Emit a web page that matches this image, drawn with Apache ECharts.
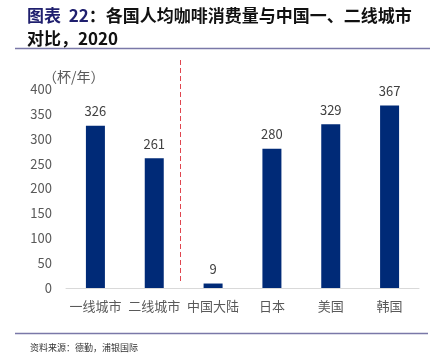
<!DOCTYPE html>
<html><head><meta charset="utf-8">
<script src="https://cdn.jsdelivr.net/npm/echarts@6/dist/echarts.min.js"></script>
<style>html,body{margin:0;padding:0;background:#fff}#c{width:435px;height:357px}</style>
</head><body><div id="c"></div>
<script>
const categories = ['一线城市', '二线城市', '中国大陆', '日本', '美国', '韩国'];
const values = [326, 261, 9, 280, 329, 367];
const yTicks = [0, 50, 100, 150, 200, 250, 300, 350, 400];
const dividerAt = 1.94; // between 二线城市 and 中国大陆

const chart = echarts.init(document.getElementById('c'), null, {renderer: 'canvas'});
const CJK = '"Noto Sans CJK SC", "Noto Sans", sans-serif';
chart.setOption({
  animation: false,
  textStyle: {fontFamily: CJK},
  grid: {left: 66, right: 16, top: 89, bottom: 69},
  title: [
    {text: '{a|图表  22}：各国人均咖啡消费量与中国一、二线城市\n对比，2020', left: 22, top: -1,
     textStyle: {fontSize: 17, fontWeight: 'bold', color: '#111', lineHeight: 23, fontFamily: CJK,
       rich: {a: {fontSize: 17, fontWeight: 'bold', color: '#1f1f6e', fontFamily: CJK}}}},
    {text: '资料来源：德勤，浦银国际', left: 25, top: 338,
     textStyle: {fontSize: 9, fontWeight: 'normal', color: '#333', fontFamily: CJK}},
    {text: '（杯/年）', left: 38, top: 65,
     textStyle: {fontSize: 14, fontWeight: 'normal', color: '#595959', fontFamily: CJK}}
  ],
  xAxis: [{
    type: 'category', data: categories,
    axisLine: {lineStyle: {color: '#d9d9d9'}},
    axisTick: {show: false},
    axisLabel: {color: '#595959', fontSize: 13, margin: 12, interval: 0, fontFamily: CJK}
  }, {
    type: 'value', min: 0, max: 6, show: false
  }],
  yAxis: {
    type: 'value', min: yTicks[0], max: yTicks[yTicks.length - 1], interval: 50,
    axisLine: {show: false}, axisTick: {show: false}, splitLine: {show: false},
    axisLabel: {color: '#595959', fontSize: 13, margin: 14, fontFamily: CJK}
  },
  series: [{
    type: 'bar', data: values, barWidth: 19, xAxisIndex: 0,
    itemStyle: {color: '#002a77'},
    label: {show: true, position: 'top', color: '#404040', fontSize: 13, distance: 8, fontFamily: CJK}
  }]
});

const px = chart.convertToPixel({xAxisIndex: 1}, dividerAt);
chart.setOption({
  graphic: [
    {type: 'line', shape: {x1: 15, y1: 48.5, x2: 430, y2: 48.5}, style: {stroke: '#7a78a8', lineWidth: 1.5}},
    {type: 'line', shape: {x1: 15, y1: 333.5, x2: 428, y2: 333.5}, style: {stroke: '#7a78a8', lineWidth: 1.5}},
    {type: 'line', shape: {x1: Math.round(px) + 0.5, y1: 60, x2: Math.round(px) + 0.5, y2: 281},
     style: {stroke: '#e0454f', lineWidth: 1, lineDash: [5, 3]}}
  ]
});
</script></body></html>
